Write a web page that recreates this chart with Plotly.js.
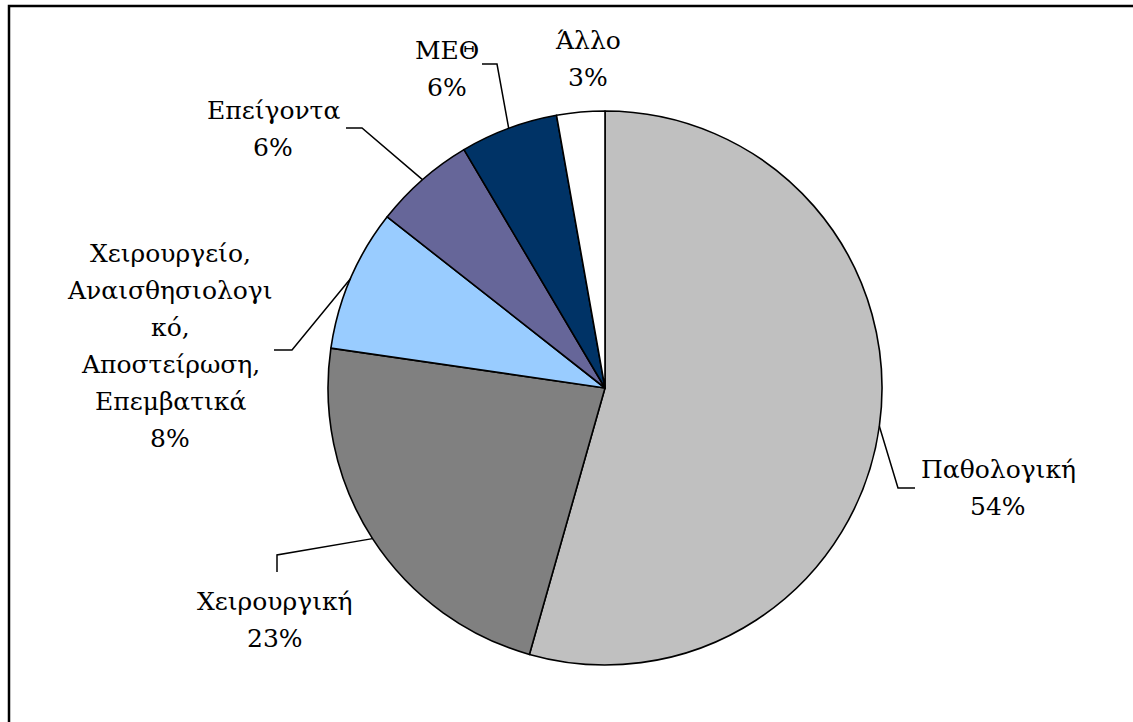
<!DOCTYPE html>
<html>
<head>
<meta charset="utf-8">
<script src="https://cdn.plot.ly/plotly-3.0.1.min.js"></script>
<style>html,body{margin:0;padding:0;background:#fff;}#chart{width:1133px;height:722px;}</style>
</head>
<body>
<div id="chart"></div>
<script>
// ---- data ----
var categories = ["Παθολογική", "Χειρουργική", "Χειρουργείο, Αναισθησιολογικό, Αποστείρωση, Επεμβατικά", "Επείγοντα", "ΜΕΘ", "Άλλο"];
var displayLabels = ["Παθολογική", "Χειρουργική", "Χειρουργείο,<br>Αναισθησιολογι<br>κό,<br>Αποστείρωση,<br>Επεμβατικά", "Επείγοντα", "ΜΕΘ", "Άλλο"];
var values = [54.4, 22.9, 8.3, 5.9, 5.7, 2.8];
var colors = ["#C0C0C0", "#808080", "#99CCFF", "#666699", "#003366", "#FFFFFF"];

// ---- layout (pixels) ----
var W = 1133, H = 722;
var cx = 605, cy = 388, R = 277;
var LINE = 37;
var FONT = {family: "DejaVu Serif, serif", size: 25, color: "#000"};
// label block centres and leader-line elbows (layout, not data)
var labelCenter = [[998, 488], [275, 620], [170, 346], [273, 129], [447, 69], [588, 59]];
var leaderElbow = [[[898, 488], [915, 488]], [[277, 555], [277, 572]], [[292, 350], [274, 350]], [[362, 128], [346, 128]], [[497, 64], [482, 64]], null];

function px(x) { return x / W; }
function py(y) { return (H - y) / H; }

var total = values.reduce(function (a, b) { return a + b; }, 0);
var annotations = [], shapes = [];
var cum = 0;
for (var i = 0; i < values.length; i++) {
  var frac = values[i] / total;
  var mid = (cum + frac / 2) * 2 * Math.PI;
  cum += frac;
  var ex = cx + R * Math.sin(mid), ey = cy - R * Math.cos(mid);
  var lines = displayLabels[i].split("<br>");
  lines.push(Math.round(frac * 100) + "%");
  for (var k = 0; k < lines.length; k++) {
    var yy = labelCenter[i][1] + (k - (lines.length - 1) / 2) * LINE;
    annotations.push({
      xref: "paper", yref: "paper", x: px(labelCenter[i][0]), y: py(yy),
      xanchor: "center", yanchor: "middle", showarrow: false, align: "center",
      text: lines[k], font: FONT
    });
  }
  if (leaderElbow[i]) {
    var e1 = leaderElbow[i][0], e2 = leaderElbow[i][1];
    shapes.push({
      type: "path", xref: "paper", yref: "paper",
      path: "M" + px(ex) + "," + py(ey) + " L" + px(e1[0]) + "," + py(e1[1]) + " L" + px(e2[0]) + "," + py(e2[1]),
      line: {color: "#000", width: 1.5}
    });
  }
}
// outer chart border (top and left visible)
shapes.push({type: "path", xref: "paper", yref: "paper",
  path: "M" + px(9) + "," + py(H + 5) + " L" + px(9) + "," + py(6) + " L" + px(W + 5) + "," + py(6),
  line: {color: "#000", width: 2.5}});

var trace = {
  type: "pie",
  labels: categories,
  values: values,
  sort: false,
  direction: "clockwise",
  rotation: 0,
  textinfo: "none",
  hoverinfo: "label+percent",
  marker: {colors: colors, line: {color: "#000", width: 1.6}},
  domain: {x: [px(cx - R), px(cx + R)], y: [py(cy + R), py(cy - R)]},
  showlegend: false
};

var layout = {
  width: W, height: H,
  margin: {l: 0, r: 0, t: 0, b: 0},
  paper_bgcolor: "#fff",
  showlegend: false,
  annotations: annotations,
  shapes: shapes
};

Plotly.newPlot("chart", [trace], layout, {displayModeBar: false, staticPlot: true});
</script>
</body>
</html>
